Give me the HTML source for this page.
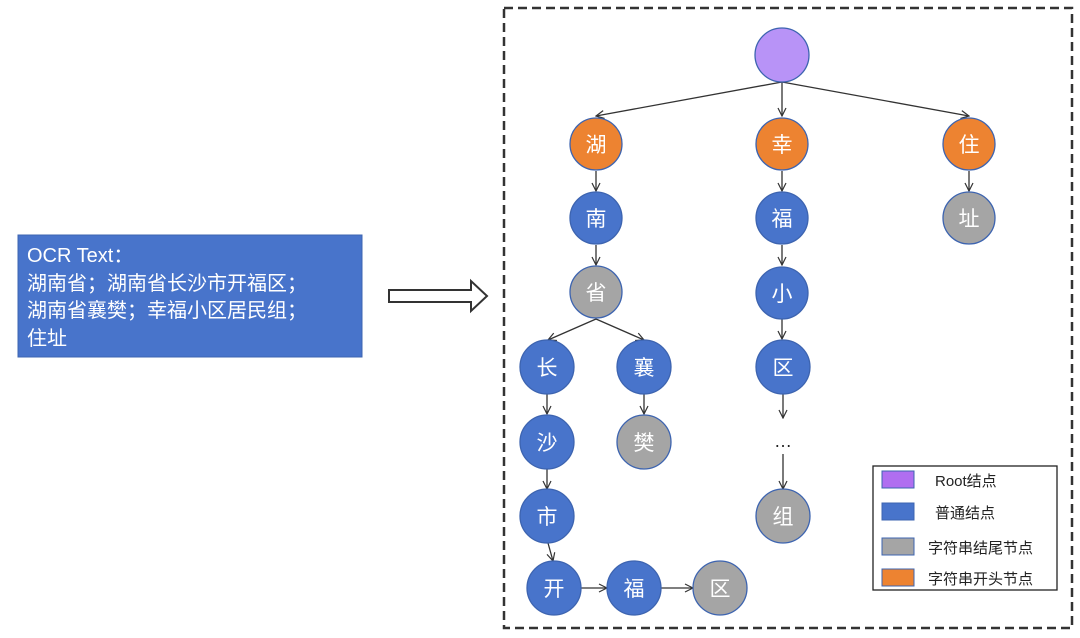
<!DOCTYPE html>
<html><head><meta charset="utf-8"><style>
body{margin:0;background:#fff;}
svg text{font-family:"Liberation Sans","Noto Sans CJK SC",sans-serif;}
</style></head><body>
<svg width="1080" height="633" viewBox="0 0 1080 633" xmlns="http://www.w3.org/2000/svg">
<defs>
<marker id="a" markerWidth="10" markerHeight="10" refX="9" refY="5" orient="auto" markerUnits="userSpaceOnUse">
<path d="M1,1 L9,5 L1,9" fill="none" stroke="#333" stroke-width="1.2"/>
</marker>
</defs>
<rect x="18" y="235" width="344" height="122" fill="#4874cb" stroke="#3d64b0"/>
<g fill="#fff" font-size="20">
<text x="27" y="262">OCR Text：</text>
<text x="27" y="290">湖南省；湖南省长沙市开福区；</text>
<text x="27" y="317">湖南省襄樊；幸福小区居民组；</text>
<text x="27" y="345">住址</text>
</g>
<path d="M389,290 L471,290 L471,281 L487,296 L471,311 L471,302 L389,302 Z" fill="#fff" stroke="#333" stroke-width="2"/>
<rect x="504" y="8" width="568" height="620" fill="none" stroke="#333" stroke-width="2.5" stroke-dasharray="9,5"/>
<g stroke="#333" stroke-width="1.3" marker-end="url(#a)">
<line x1="782" y1="82" x2="596" y2="116"/>
<line x1="782" y1="82" x2="782" y2="116"/>
<line x1="782" y1="82" x2="969" y2="116"/>
<line x1="596" y1="171" x2="596" y2="191"/>
<line x1="596" y1="245" x2="596" y2="265"/>
<line x1="596" y1="319" x2="548" y2="340"/>
<line x1="596" y1="319" x2="644" y2="340"/>
<line x1="547" y1="394" x2="547" y2="414"/>
<line x1="644" y1="394" x2="644" y2="414"/>
<line x1="547" y1="469" x2="547" y2="489"/>
<line x1="548" y1="543" x2="553" y2="561"/>
<line x1="581" y1="588" x2="607" y2="588"/>
<line x1="661" y1="588" x2="693" y2="588"/>
<line x1="782" y1="171" x2="782" y2="191"/>
<line x1="782" y1="245" x2="782" y2="265"/>
<line x1="782" y1="319" x2="782" y2="339"/>
<line x1="783" y1="394" x2="783" y2="418"/>
<line x1="783" y1="454" x2="783" y2="489"/>
<line x1="969" y1="171" x2="969" y2="191"/>
</g>
<text x="783" y="447" font-size="18" text-anchor="middle" fill="#222">…</text>
<g stroke="#3d64b0" stroke-width="1.3">
<circle cx="782" cy="55" r="27" fill="#b893f7"/>
<circle cx="596" cy="144" r="26" fill="#ed8331"/>
<circle cx="782" cy="144" r="26" fill="#ed8331"/>
<circle cx="969" cy="144" r="26" fill="#ed8331"/>
<circle cx="596" cy="218" r="26" fill="#4874cb"/>
<circle cx="782" cy="218" r="26" fill="#4874cb"/>
<circle cx="969" cy="218" r="26" fill="#a5a5a5"/>
<circle cx="596" cy="292" r="26" fill="#a5a5a5"/>
<circle cx="782" cy="293" r="26" fill="#4874cb"/>
<circle cx="547" cy="367" r="27" fill="#4874cb"/>
<circle cx="644" cy="367" r="27" fill="#4874cb"/>
<circle cx="783" cy="367" r="27" fill="#4874cb"/>
<circle cx="547" cy="442" r="27" fill="#4874cb"/>
<circle cx="644" cy="442" r="27" fill="#a5a5a5"/>
<circle cx="547" cy="516" r="27" fill="#4874cb"/>
<circle cx="783" cy="516" r="27" fill="#a5a5a5"/>
<circle cx="554" cy="588" r="27" fill="#4874cb"/>
<circle cx="634" cy="588" r="27" fill="#4874cb"/>
<circle cx="720" cy="588" r="27" fill="#a5a5a5"/>
</g>
<g fill="#fff" font-size="21" text-anchor="middle">
<text x="596" y="152">湖</text><text x="782" y="152">幸</text><text x="969" y="152">住</text>
<text x="596" y="226">南</text><text x="782" y="226">福</text><text x="969" y="226">址</text>
<text x="596" y="300">省</text><text x="782" y="301">小</text>
<text x="547" y="375">长</text><text x="644" y="375">襄</text><text x="783" y="375">区</text>
<text x="547" y="450">沙</text><text x="644" y="450">樊</text>
<text x="547" y="524">市</text><text x="783" y="524">组</text>
<text x="554" y="596">开</text><text x="634" y="596">福</text><text x="720" y="596">区</text>
</g>
<rect x="873" y="466" width="184" height="124" fill="#fff" stroke="#222" stroke-width="1.3"/>
<g stroke="#3d64b0" stroke-width="1">
<rect x="882" y="471" width="32" height="17" fill="#b06ef0"/>
<rect x="882" y="503" width="32" height="17" fill="#4874cb"/>
<rect x="882" y="538" width="32" height="17" fill="#a5a5a5"/>
<rect x="882" y="569" width="32" height="17" fill="#ed8331"/>
</g>
<g fill="#222" font-size="15">
<text x="935" y="486">Root结点</text>
<text x="935" y="518">普通结点</text>
<text x="928" y="553">字符串结尾节点</text>
<text x="928" y="584">字符串开头节点</text>
</g>
</svg>
</body></html>
